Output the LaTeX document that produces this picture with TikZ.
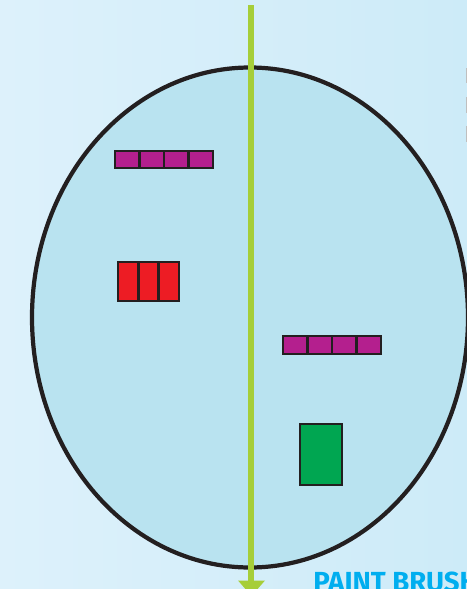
\documentclass[tikz,border=0pt]{standalone}
\usepackage{fontspec}
\setsansfont{Fira Sans}
\usetikzlibrary{positioning}
\definecolor{bgleft}{HTML}{DDF1FB}
\definecolor{bgright}{HTML}{CDEBF8}
\definecolor{pool}{HTML}{B9E3F0}
\definecolor{rim}{HTML}{231F20}
\definecolor{axisgreen}{HTML}{A6CE39}
\definecolor{magentacell}{HTML}{B41F8E}
\definecolor{redcell}{HTML}{ED1C24}
\definecolor{greencell}{HTML}{00A651}
\definecolor{brushblue}{HTML}{00AEEF}
\tikzset{
    cell/.style={draw=rim, line width=1.4pt},
    rim/.style={draw=rim, line width=2.4pt}
}

\begin{document}
\begin{tikzpicture}[x=0.02cm, y=-0.02cm]
    \clip (0, 0) rectangle (467, 589);
    \shade[left color=bgleft, right color=bgright] (0, 0) rectangle (467, 589);
    % right-edge marks
    \fill[gray!50] (466, 68) rectangle (468, 83);
    \fill[gray!50] (466, 97) rectangle (468, 113);
    \fill[gray!50] (466, 126) rectangle (468, 142);

    \filldraw[rim, fill=pool] (250, 317.5) ellipse (218 and 250);

    % top row
    \filldraw[cell, fill=magentacell] (115, 151) rectangle (139.5, 168);
    \filldraw[cell, fill=magentacell] (139.5, 151) rectangle (164, 168);
    \filldraw[cell, fill=magentacell] (164, 151) rectangle (188.5, 168);
    \filldraw[cell, fill=magentacell] (188.5, 151) rectangle (213, 168);

    \filldraw[cell, fill=redcell] (118, 262) rectangle (138.3, 301);
    \filldraw[cell, fill=redcell] (138.3, 262) rectangle (158.6, 301);
    \filldraw[cell, fill=redcell] (158.6, 262) rectangle (179, 301);

    \filldraw[cell, fill=magentacell] (283, 336) rectangle (307.5, 354);
    \filldraw[cell, fill=magentacell] (307.5, 336) rectangle (332, 354);
    \filldraw[cell, fill=magentacell] (332, 336) rectangle (356.5, 354);
    \filldraw[cell, fill=magentacell] (356.5, 336) rectangle (381, 354);

    \filldraw[cell, fill=greencell] (300, 424) rectangle (342, 485);

    % mirror line
    \fill[axisgreen] (248, 5) rectangle (254, 581);
    \fill[axisgreen] (238, 580.5) -- (265, 580.5) -- (251.5, 596) -- cycle;

    \node[anchor=base west, inner sep=0pt, text=brushblue,
          font=\sffamily\bfseries\fontsize{15.7pt}{16pt}\selectfont] (brush) at (313, 591.5) {PAINT BRUSH};
\end{tikzpicture}
\end{document}
